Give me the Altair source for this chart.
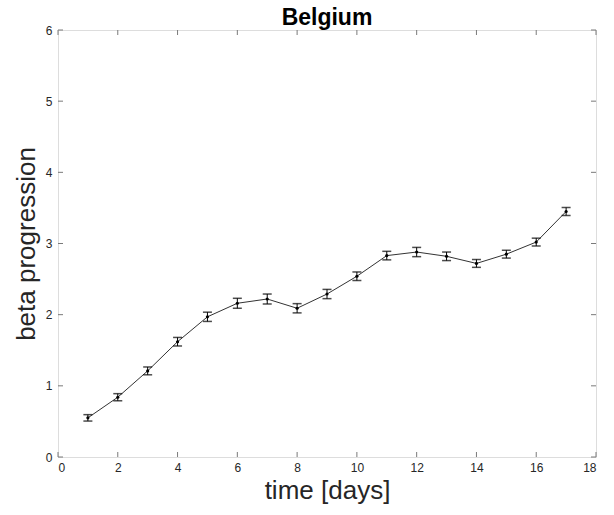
import altair as alt
import pandas as pd

days = list(range(1, 18))
beta = [0.55, 0.84, 1.21, 1.62, 1.97, 2.16, 2.22, 2.09, 2.29, 2.54, 2.83, 2.88, 2.82, 2.72, 2.85, 3.02, 3.45]
err = [0.045, 0.05, 0.055, 0.06, 0.065, 0.07, 0.07, 0.065, 0.065, 0.06, 0.06, 0.065, 0.06, 0.055, 0.055, 0.055, 0.055]
x_ticks = list(range(0, 19, 2))
y_ticks = list(range(0, 7))

W, H = 538, 427
FONT = "Liberation Sans"
AX = "#7a7a7a"
TXT = "#262626"

df = pd.DataFrame({"day": days, "beta": beta, "err": err})
df["lo"] = df["beta"] - df["err"]
df["hi"] = df["beta"] + df["err"]
xt = pd.DataFrame({"t": x_ticks})
yt = pd.DataFrame({"t": y_ticks})

xs = alt.Scale(domain=[0, 18], nice=False)
ys = alt.Scale(domain=[0, 6], nice=False)

xaxis = alt.Axis(values=x_ticks, format="d", title="time [days]", titleFontSize=26, titleFont=FONT,
                 titleFontWeight="normal", titleColor=TXT, titlePadding=4,
                 labelFont=FONT, labelFontSize=12, labelColor=TXT, labelPadding=5,
                 ticks=False, domain=False, grid=False)
yaxis = alt.Axis(values=y_ticks, format="d", title="beta progression", titleFontSize=26, titleFont=FONT,
                 titleFontWeight="normal", titleColor=TXT, titlePadding=6,
                 labelFont=FONT, labelFontSize=12, labelColor=TXT, labelPadding=6,
                 ticks=False, domain=False, grid=False)

base = alt.Chart(df)
line = base.mark_line(color="#333333", strokeWidth=1).encode(
    x=alt.X("day:Q", scale=xs, axis=xaxis),
    y=alt.Y("beta:Q", scale=ys, axis=yaxis),
)
bars = base.mark_rule(color="#000000", strokeWidth=1).encode(
    x="day:Q", y="lo:Q", y2="hi:Q")
cap_lo = base.mark_tick(color="#000000", thickness=1.5, size=9, orient="horizontal").encode(
    x="day:Q", y="lo:Q")
cap_hi = base.mark_tick(color="#000000", thickness=1.5, size=9, orient="horizontal").encode(
    x="day:Q", y="hi:Q")
pts = base.mark_point(filled=True, color="#000000", size=10, opacity=1).encode(
    x="day:Q", y="beta:Q")

tb = alt.Chart(xt).mark_rule(color=AX, strokeWidth=1).encode(
    x=alt.X("t:Q", scale=xs), y=alt.value(H), y2=alt.value(H - 5))
tt = alt.Chart(xt).mark_rule(color=AX, strokeWidth=1).encode(
    x=alt.X("t:Q", scale=xs), y=alt.value(0), y2=alt.value(5))
tl = alt.Chart(yt).mark_rule(color=AX, strokeWidth=1).encode(
    y=alt.Y("t:Q", scale=ys), x=alt.value(0), x2=alt.value(5))
tr = alt.Chart(yt).mark_rule(color=AX, strokeWidth=1).encode(
    y=alt.Y("t:Q", scale=ys), x=alt.value(W), x2=alt.value(W - 5))

chart = alt.layer(tb, tt, tl, tr, line, bars, cap_lo, cap_hi, pts).properties(
    width=W, height=H,
    title=alt.TitleParams("Belgium", font=FONT, fontSize=23, fontWeight="bold",
                          color="#000000", anchor="middle", offset=-6),
    autosize=alt.AutoSizeParams(type="none"),
    padding={"left": 58, "top": 30, "right": 18, "bottom": 58},
).configure_view(stroke=AX, strokeWidth=1).configure(background="white")

chart.save("out.html", embed_options={"renderer": "svg", "actions": False})
